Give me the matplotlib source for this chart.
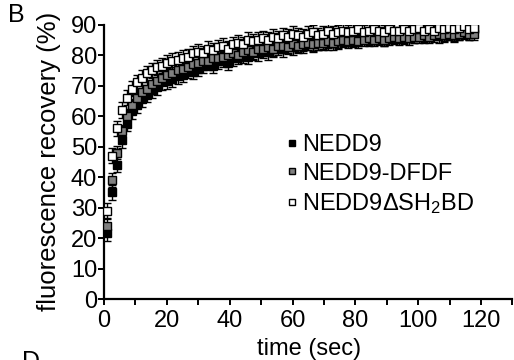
import matplotlib
matplotlib.use("Agg")
import matplotlib.pyplot as plt
from matplotlib.ticker import MultipleLocator

plt.rcParams['font.family'] = ['Liberation Sans', 'DejaVu Sans']
plt.rcParams['mathtext.fontset'] = 'custom'
plt.rcParams['mathtext.rm'] = 'Liberation Sans'
plt.rcParams['mathtext.it'] = 'Liberation Sans'

time_s = [1.0, 2.6, 4.2, 5.8, 7.4, 9.0, 10.6, 12.2, 13.8, 15.4, 17.0, 18.6, 20.2, 21.8, 23.4,
          25.0, 26.6, 28.2, 29.8, 31.4, 33.0, 34.6, 36.2, 37.8, 39.4, 41.0, 42.6, 44.2, 45.8,
          47.4, 49.0, 50.6, 52.2, 53.8, 55.4, 57.0, 58.6, 60.2, 61.8, 63.4, 65.0, 66.6, 68.2,
          69.8, 71.4, 73.0, 74.6, 76.2, 77.8, 79.4, 81.0, 82.6, 84.2, 85.8, 87.4, 89.0, 90.6,
          92.2, 93.8, 95.4, 97.0, 98.6, 100.2, 101.8, 103.4, 105.0, 106.6, 108.2, 109.8, 111.4,
          113.0, 114.6, 116.2, 117.8]

nedd9 = [21.5, 35, 44, 52, 57.5, 61.5, 63.5, 65.5, 67, 68.5, 69.5, 71, 71.5, 72, 73,
         73.5, 75, 74.5, 75.5, 76.5, 77.5, 76.5, 78, 78.5, 77.5, 79, 79.5, 80, 79.5,
         81, 80.5, 81.5, 81, 82, 82.5, 82, 83, 82.5, 83.5, 83, 84, 83.5, 84,
         84.5, 84, 85, 84.5, 85, 85.5, 85, 85.5, 86, 85.5, 86, 86.5, 85.5, 86.5,
         86, 86.5, 86, 87, 86.5, 87, 86.5, 87, 87.5, 86.5, 87, 87.5, 87,
         87.5, 88, 87.5, 88.5]

dfdf = [24, 39, 48, 55, 60, 63.5, 66, 68, 69, 70.5, 71.5, 72.5, 73.5, 74, 75,
        75.5, 76, 77, 77.5, 78, 78, 79, 79, 79.5, 80, 80.5, 80, 81, 81.5,
        81, 82, 82, 82.5, 82, 83, 83, 82.5, 83.5, 83, 83.5, 84, 83.5, 84,
        84, 84.5, 84, 84.5, 85, 84.5, 85, 84.5, 85, 85.5, 85, 85.5, 85, 85.5,
        86, 85.5, 86, 85.5, 86, 86, 86.5, 86, 86.5, 87, 86.5, 87, 86.5,
        87, 87.5, 87, 87]

dsh2bd = [29, 47, 56, 62, 66, 69, 71, 72.5, 74, 75, 76, 76.5, 77.5, 78, 78.5,
          79, 79.5, 80.5, 81, 80.5, 82, 81.5, 82.5, 83, 82, 83.5, 84, 83.5, 85,
          84.5, 85, 85.5, 85, 86, 85.5, 86.5, 86, 87, 86.5, 86, 87, 87.5, 86.5,
          87, 88, 87, 87.5, 88, 87.5, 88, 88.5, 87.5, 88, 88.5, 88, 87.5, 88.5,
          88, 88, 88.5, 88, 88.5, 89, 88, 88.5, 88, 89, 88.5, 89, 88.5,
          89, 89.5, 88.5, 89]

err_nedd9 = 2.5
err_dfdf = 2.2
err_dsh2bd = 2.5

labels = ['NEDD9', 'NEDD9-DFDF', 'NEDD9\u0394SH$_2$BD']

FS = 17

fig = plt.figure(figsize=(5.14, 3.6), dpi=100)
ax = fig.add_axes([104/514, 1-299/360, 410/514, (299-24.5)/360])

series = [(nedd9, err_nedd9, 'black'), (dfdf, err_dfdf, '#808080'), (dsh2bd, err_dsh2bd, 'white')]
handles = []
for (vals, err, fc), lab in zip(series, labels):
    ax.errorbar(time_s, vals, yerr=err, fmt='none', ecolor='black', elinewidth=1.0,
                capsize=3, capthick=1.0, zorder=2)
    h, = ax.plot(time_s, vals, ls='none', marker='s', markersize=5.5, markerfacecolor=fc,
                 markeredgecolor='black', markeredgewidth=1.0, zorder=3, label=lab)
    handles.append(h)

ax.set_xlim(0, 130.5)
ax.set_ylim(0, 90)
ax.xaxis.set_major_locator(MultipleLocator(20))
ax.xaxis.set_minor_locator(MultipleLocator(10))
ax.yaxis.set_major_locator(MultipleLocator(10))
for s in ['top', 'right']:
    ax.spines[s].set_visible(False)
for s in ['left', 'bottom']:
    ax.spines[s].set_linewidth(1.6)
ax.tick_params(which='both', direction='out', width=1.4, length=4, labelsize=FS, pad=1)
ax.tick_params(axis='x', which='both', pad=4)
ax.spines['bottom'].set_bounds(0, 130)

ax.set_xlabel('time (sec)', fontsize=FS, labelpad=4)
ax.set_ylabel('fluorescence recovery (%)', fontsize=18.5, labelpad=7)

leg = ax.legend(handles=handles, loc='upper left', bbox_to_anchor=(0.445, 0.60), frameon=False,
                fontsize=FS, handlelength=0.5, handletextpad=0.15, labelspacing=0.27,
                borderaxespad=0, borderpad=0, markerscale=0.85)

fig.text(8/514, 1-15/360, 'B', fontsize=18, ha='left', va='center')
fig.text(22/514, 1-362/360, 'D', fontsize=18, ha='left', va='center')

fig.savefig('out.png', dpi=100)
